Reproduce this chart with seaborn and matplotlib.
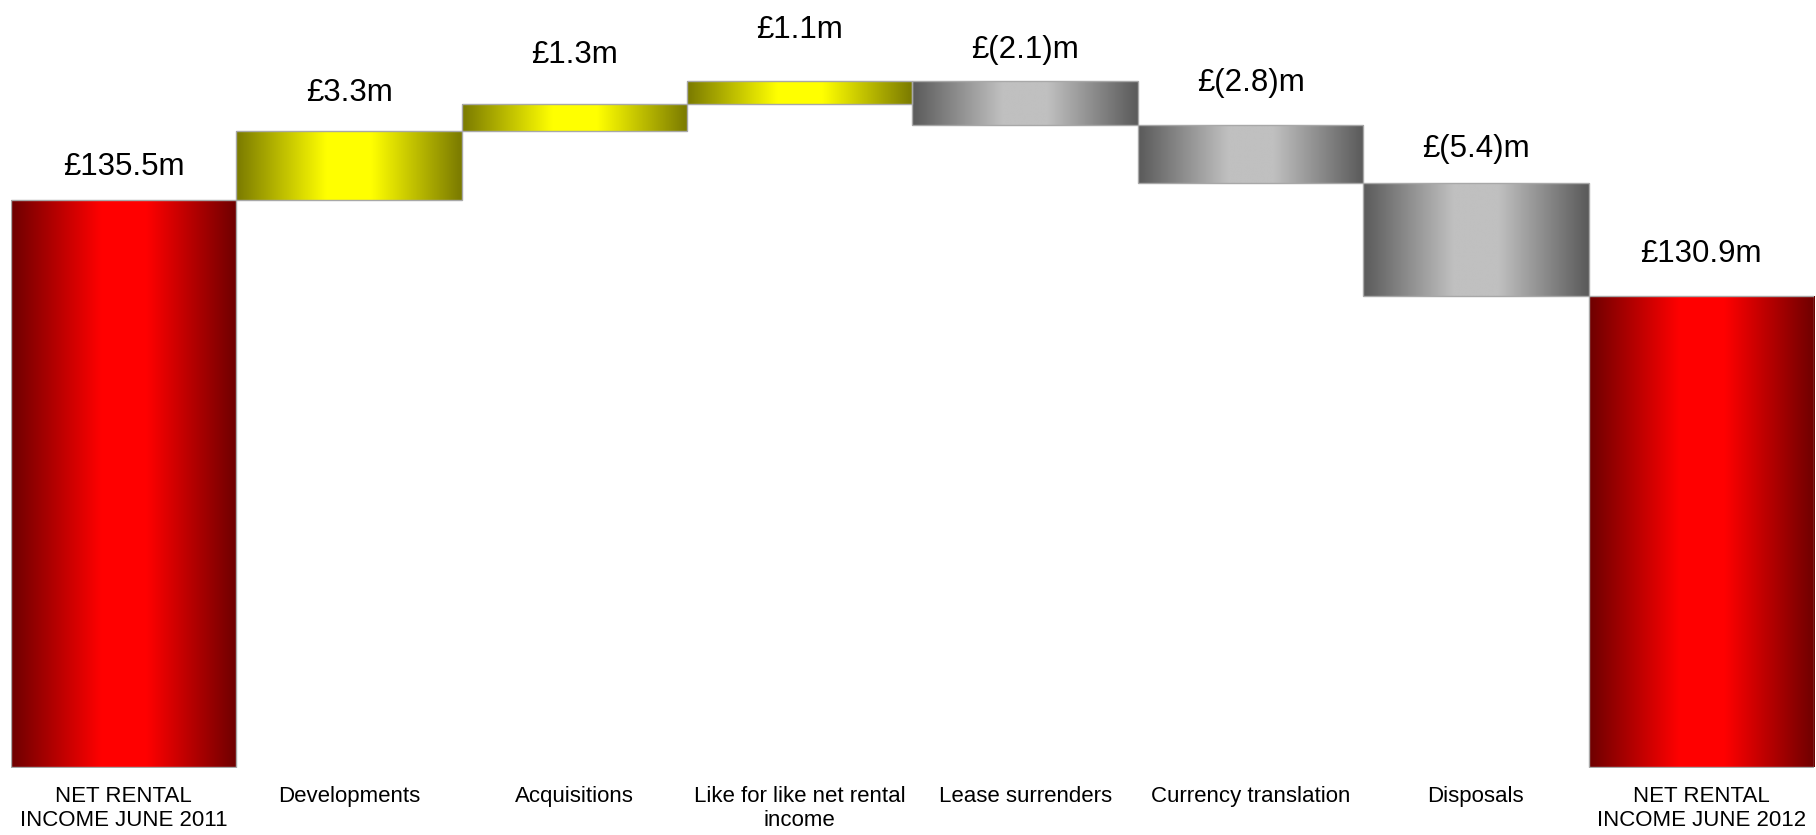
import numpy as np
import pandas as pd
import matplotlib
matplotlib.use("Agg")
import matplotlib.pyplot as plt
from matplotlib.colors import LinearSegmentedColormap
import seaborn as sns

# ---- data ----
categories = ["NET RENTAL\nINCOME JUNE 2011", "Developments", "Acquisitions",
              "Like for like net rental\nincome", "Lease surrenders",
              "Currency translation", "Disposals", "NET RENTAL\nINCOME JUNE 2012"]
values = [135.5, 3.3, 1.3, 1.1, -2.1, -2.8, -5.4, 130.9]
kinds = ["total", "inc", "inc", "inc", "dec", "dec", "dec", "total"]
value_labels = ["£135.5m", "£3.3m", "£1.3m", "£1.1m", "£(2.1)m", "£(2.8)m",
                "£(5.4)m", "£130.9m"]

# ---- layout / style ----
y_floor, y_top = 108.39, 145.05   # broken value axis as in the source
label_gap_px = [25, 30, 41, 43, 23, 34, 26, 34]
gradients = {
    "total": ["#6e0000", "#ff0000", "#ff0000", "#6e0000"],
    "inc": ["#7a7a00", "#ffff00", "#ffff00", "#7a7a00"],
    "dec": ["#5a5a5a", "#c0c0c0", "#c0c0c0", "#5a5a5a"],
}

# waterfall bottoms / tops (totals start at the axis floor)
bottoms, tops = [], []
running = 0.0
for v, k in zip(values, kinds):
    if k == "total":
        bottoms.append(y_floor)
        tops.append(v)
        running = v
    else:
        lo, hi = sorted([running, running + v])
        bottoms.append(lo)
        tops.append(hi)
        running += v

df = pd.DataFrame({"category": categories,
                   "height": np.array(tops) - np.array(bottoms),
                   "bottom": bottoms})

sns.set_theme(style="white")
plt.rcParams["font.family"] = ["Liberation Sans", "DejaVu Sans"]

fig = plt.figure(figsize=(18.16, 8.35), dpi=100)
ax = fig.add_axes([11 / 1816, 67 / 835, 1803 / 1816, 768 / 835])

sns.barplot(data=df, x="category", y="height", bottom=df["bottom"].to_numpy(),
            width=1.0, ax=ax, color="white", edgecolor="#a8a8a8",
            linewidth=1.0, saturation=1)

grad = np.linspace(0, 1, 256).reshape(1, -1)
stops = [0.0, 0.4, 0.6, 1.0]
for patch, k, lab, gap in zip(ax.patches, kinds, value_labels, label_gap_px):
    x0, y0 = patch.get_x(), patch.get_y()
    w, h = patch.get_width(), patch.get_height()
    cmap = LinearSegmentedColormap.from_list(k, list(zip(stops, gradients[k])))
    im = ax.imshow(grad, aspect="auto", cmap=cmap,
                   extent=[x0, x0 + w, y0, y0 + h], zorder=1.5,
                   interpolation="bilinear")
    im.set_clip_path(patch)
    patch.set_facecolor("none")
    patch.set_zorder(2)
    ax.annotate(lab, xy=(x0 + w / 2, y0 + h), xytext=(0, gap * 0.72),
                textcoords="offset points", ha="center", va="baseline",
                fontsize=22.5, color="black")

ax.set_xlim(-0.5, len(categories) - 0.5)
ax.set_ylim(y_floor - 0.03, y_top)
ax.set_xlabel("")
ax.set_ylabel("")
ax.set_yticks([])
ax.tick_params(axis="x", length=0, pad=13, labelsize=16, labelcolor="black")
for s in ax.spines.values():
    s.set_visible(False)

fig.savefig("out.png", dpi=100, facecolor="white")
